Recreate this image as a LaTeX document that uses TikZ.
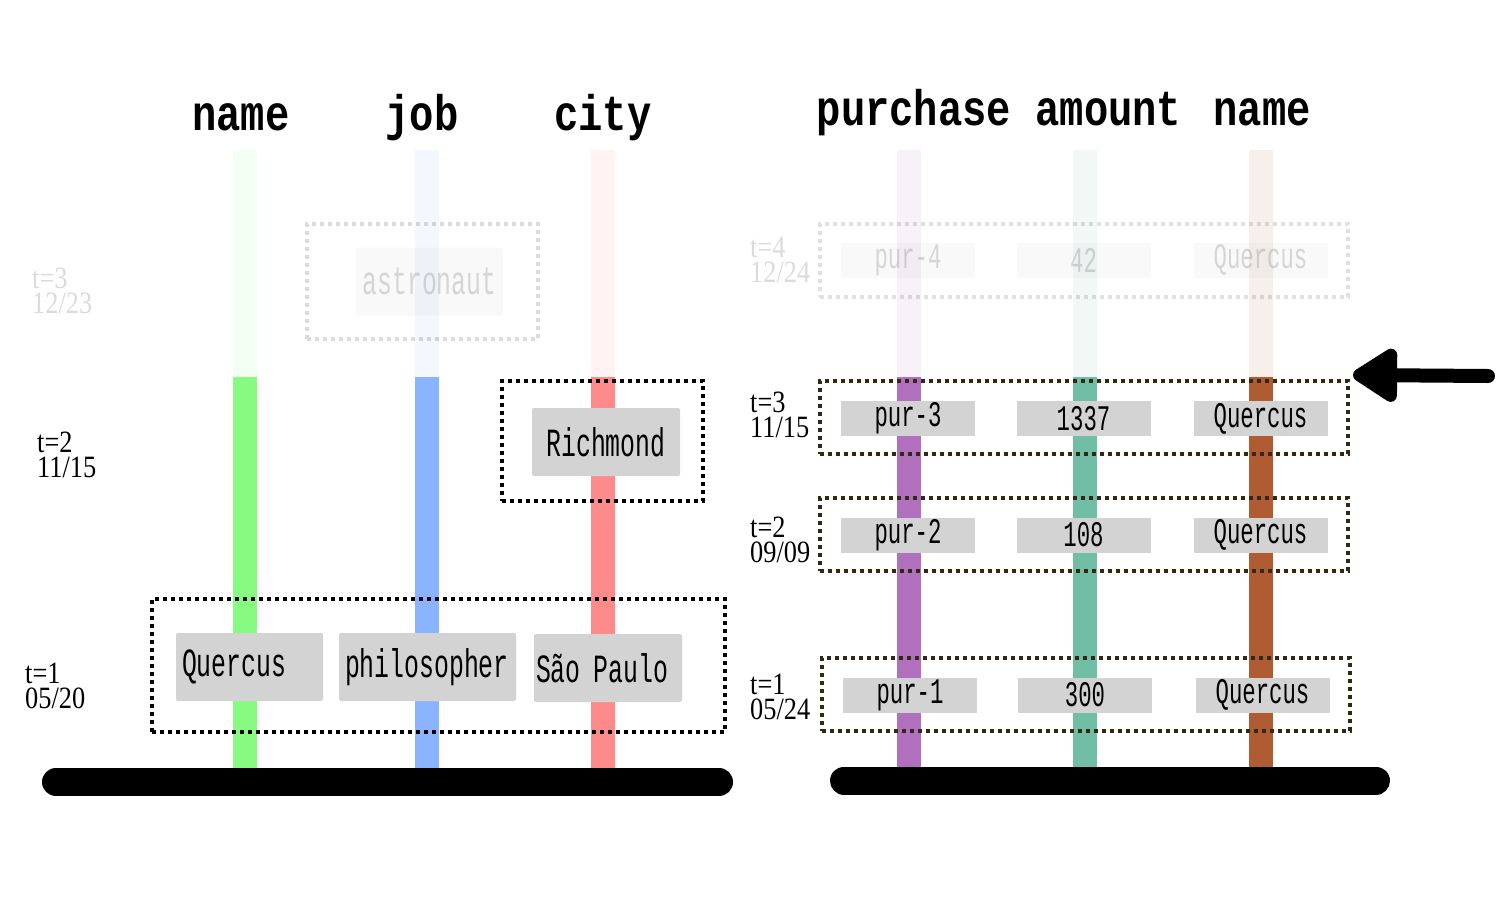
\documentclass[tikz,border=0pt]{standalone}
\usepackage{fontspec}
\setmainfont{Liberation Serif}
\newfontfamily\hdrfont[FakeStretch=0.81]{Liberation Mono}
\newfontfamily\cellfont[FakeStretch=0.62]{Liberation Mono}
\newfontfamily\labfont[FakeStretch=0.85]{Liberation Serif}
\usetikzlibrary{arrows.meta}
\definecolor{cgreen}{RGB}{135,250,130}
\definecolor{cblue}{RGB}{138,180,255}
\definecolor{cred}{RGB}{255,138,138}
\definecolor{cpurple}{RGB}{176,112,190}
\definecolor{cteal}{RGB}{112,190,166}
\definecolor{cbrown}{RGB}{175,92,50}
\definecolor{cellgray}{RGB}{211,211,211}
\definecolor{dotbrown}{RGB}{50,40,20}
\begin{document}
\begin{tikzpicture}[x=1pt,y=-1pt,
  colbar/.style={line width=24pt},
  hdr/.style={font=\hdrfont\bfseries\fontsize{50}{50}\selectfont, anchor=base, inner sep=0pt},
  lab/.style={font=\labfont\fontsize{31}{25}\selectfont, anchor=north west, align=left, inner sep=0pt},
  cellL/.style={fill=cellgray, rounded corners=2pt, minimum height=68pt, inner ysep=0pt,
     font=\cellfont\fontsize{40}{40}\selectfont},
  cellR/.style={fill=cellgray, minimum width=134pt, minimum height=35pt, inner sep=0pt,
     font=\cellfont\fontsize{36}{36}\selectfont},
  dotbox/.style={draw=black, line width=4pt, dash pattern=on 4pt off 4pt, inner sep=0pt},
  dotboxR/.style={dotbox, draw=dotbrown, minimum width=528pt, minimum height=73pt},
  faded/.style={opacity=0.14},
  groundbar/.style={line width=28pt, line cap=round}
]
\useasboundingbox (0,0) rectangle (1500,900);

% ---------------- column bars ----------------
\foreach \nm/\x/\c in {gL/245/cgreen, bL/427/cblue, rL/603/cred, pR/909/cpurple, tR/1085/cteal, oR/1261/cbrown}{
  \coordinate (\nm top) at (\x,150);
  \coordinate (\nm mid) at (\x,377);
  \coordinate (\nm bot) at (\x,770);
  \draw[colbar, draw=\c!10] (\nm top) -- (\nm mid);
  \draw[colbar, draw=\c] (\nm mid) -- (\nm bot);
}

% ---------------- headers ----------------
\node[hdr] (hname) at (241,130) {name};
\node[hdr] (hjob) at (422,130) {job};
\node[hdr] (hcity) at (603,130) {city};
\node[hdr] (hpa) at (999,125) {purchase amount};
\node[hdr] (hname2) at (1262,125) {name};

% ---------------- left panel ----------------
\node[dotbox, faded, minimum width=231pt, minimum height=115pt] (boxL3) at (422.5,281.5) {};
\node[cellL, faded, minimum width=147pt] (astro) at (429.5,281.5) {astronaut};
\node[lab, faded] (labL3) at (32,268) {t=3\\12/23};

\node[dotbox, minimum width=201pt, minimum height=120pt] (boxL2) at (602.5,441) {};
\node[cellL, minimum width=148pt] (rich) at (606,442) {Richmond};
\node[lab] (labL2) at (37,432) {t=2\\11/15};

\node[dotbox, minimum width=573pt, minimum height=133pt] (boxL1) at (438.5,665.5) {};
\node[cellL, text width=135pt, inner xsep=6pt, align=left] (querL) at (249.5,667) {Quercus};
\node[cellL, text width=165pt, inner xsep=6pt, align=left] (philo) at (427.5,667) {philosopher};
\node[cellL, text width=144pt, inner xsep=2pt, align=left] (sao) at (608,668) {São Paulo};
\node[lab] (labL1) at (25,663) {t=1\\05/20};

\coordinate (gl1) at (56,782);
\coordinate (gl2) at (719,782);
\draw[groundbar] (gl1) -- (gl2);

% ---------------- right panel ----------------
\node[dotboxR, faded] (boxR4) at (1084,260.5) {};
\node[cellR, faded] (p4) at (908,260) {pur-4};
\node[cellR, faded] (a4) at (1083.5,260) {42};
\node[cellR, faded] (n4) at (1260.5,260) {Quercus};
\node[lab, faded] (labR4) at (750,237) {t=4\\12/24};

\node[dotboxR] (boxR3) at (1084,417.5) {};
\node[cellR] (p3) at (908,418.5) {pur-3};
\node[cellR] (a3) at (1083.5,418.5) {1337};
\node[cellR] (n3) at (1260.5,418.5) {Quercus};
\node[lab] (labR3) at (750,392) {t=3\\11/15};

\node[dotboxR] (boxR2) at (1084,534.5) {};
\node[cellR] (p2) at (908,535) {pur-2};
\node[cellR] (a2) at (1083.5,535) {108};
\node[cellR] (n2) at (1260.5,535) {Quercus};
\node[lab] (labR2) at (750,517) {t=2\\09/09};

\node[dotboxR] (boxR1) at (1085.5,694) {};
\node[cellR] (p1) at (910,695) {pur-1};
\node[cellR] (a1) at (1085,695) {300};
\node[cellR] (n1) at (1262.5,695) {Quercus};
\node[lab] (labR1) at (750,674) {t=1\\05/24};

\coordinate (gr1) at (844,780.5);
\coordinate (gr2) at (1376,780.5);
\draw[groundbar] (gr1) -- (gr2);

% ---------------- arrow ----------------
\coordinate (arrS) at (1488,376);
\coordinate (arrE) at (1353,375);
\draw[line width=14pt, line cap=round, -{Triangle[round, length=50pt, width=60pt]}] (arrS) -- (arrE);
\end{tikzpicture}
\end{document}
